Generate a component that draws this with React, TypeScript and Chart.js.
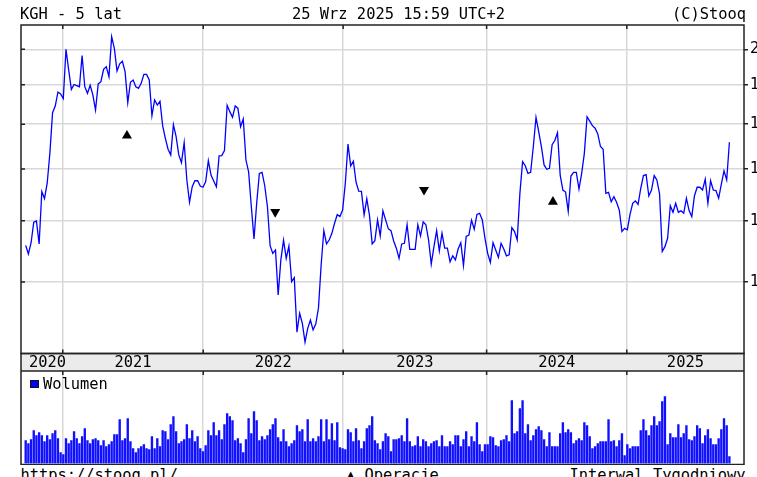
import React, { useEffect, useRef } from 'react';
import { Chart, registerables } from 'chart.js';

Chart.register(...registerables);

const MONO = '"DejaVu Sans Mono", monospace';
const SANS = '"DejaVu Sans", sans-serif';

// KGH weekly closes (PLN), one value per week, 2020-09-25 … 2025-09-25
const closes = [
  111.5, 108.7, 112.4, 119.5, 119.9, 112.0, 130.9, 128.2, 134.2, 146.7,
  165.6, 168.9, 176.1, 175.1, 172.7, 200.0, 188.1, 177.5, 180.1, 179.5,
  178.9, 196.3, 178.9, 175.4, 179.7, 174.6, 166.9, 180.4, 181.6, 188.4,
  189.9, 184.3, 207.7, 200.6, 187.5, 191.5, 193.0, 187.1, 170.6, 181.3,
  182.5, 178.9, 178.0, 180.7, 185.6, 185.6, 182.5, 164.1, 172.0, 169.4,
  171.3, 159.2, 153.4, 148.5, 146.0, 159.8, 154.2, 146.0, 142.7, 151.5,
  135.5, 126.8, 132.8, 135.2, 135.2, 133.1, 132.6, 134.8, 143.5, 137.5,
  135.1, 132.8, 145.6, 145.7, 147.9, 169.3, 166.1, 163.3, 168.9, 167.8,
  158.8, 162.5, 143.8, 138.8, 125.2, 113.7, 126.4, 138.2, 138.6, 133.2,
  125.2, 111.4, 108.9, 110.0, 96.2, 106.8, 113.3, 107.3, 111.3, 100.1,
  101.3, 86.1, 91.1, 88.4, 83.6, 87.1, 89.3, 86.7, 88.2, 92.5,
  105.2, 116.5, 112.0, 113.3, 115.6, 119.1, 122.2, 121.5, 123.9, 134.2,
  150.8, 141.3, 143.3, 134.6, 131.1, 131.0, 122.1, 128.1, 121.9, 112.0,
  113.1, 120.3, 114.7, 123.6, 120.3, 117.2, 116.5, 113.0, 110.6, 107.3,
  112.0, 112.2, 118.6, 110.2, 110.2, 110.2, 118.6, 114.7, 119.6, 118.6,
  113.3, 105.5, 111.1, 116.5, 109.7, 115.6, 110.6, 110.6, 106.2, 108.1,
  106.8, 110.3, 112.4, 105.0, 114.5, 115.0, 120.2, 117.0, 122.3, 122.7,
  120.3, 113.9, 108.9, 106.0, 112.4, 110.0, 107.6, 112.2, 110.3, 108.1,
  108.4, 117.6, 116.2, 113.3, 130.2, 143.1, 141.4, 138.2, 138.6, 149.7,
  163.3, 156.5, 149.7, 141.7, 139.9, 140.3, 150.5, 152.4, 156.0, 137.5,
  131.5, 130.7, 123.4, 137.1, 138.6, 138.6, 131.9, 138.2, 146.7, 163.6,
  161.5, 159.3, 158.1, 155.4, 149.7, 148.5, 130.2, 130.6, 127.0, 128.9,
  126.8, 123.9, 116.2, 117.3, 116.8, 122.3, 126.4, 127.3, 126.0, 132.2,
  137.3, 137.7, 129.2, 131.5, 137.3, 135.5, 130.0, 109.5, 111.1, 113.9,
  125.5, 123.1, 126.4, 123.1, 123.6, 122.7, 128.3, 123.7, 121.5, 129.3,
  132.6, 132.6, 131.5, 135.8, 126.4, 135.2, 131.5, 131.3, 128.3, 133.8,
  139.2, 135.5, 151.6,
];

// weekly volume, thousand shares
const volumesK = [
  2300, 2000, 2400, 3300, 2800, 3100, 2800, 2200, 2800, 2400,
  3000, 3300, 2500, 1100, 900, 2500, 2000, 2300, 3200, 2500,
  2000, 2700, 3500, 2300, 2000, 2400, 2500, 2300, 1800, 2300,
  1700, 1900, 2200, 2900, 2900, 4400, 2300, 2500, 4500, 2200,
  1500, 1100, 1500, 1700, 1900, 1500, 1400, 2700, 1500, 2500,
  1700, 3300, 3200, 2400, 3900, 4700, 3200, 2000, 2200, 2400,
  3900, 2500, 3300, 2200, 2700, 1500, 1200, 1800, 3300, 2800,
  4100, 2800, 3300, 2400, 3900, 5000, 4700, 4300, 2300, 2500,
  2000, 1100, 2400, 4500, 3000, 5200, 4300, 2300, 2700, 2400,
  2800, 3400, 3900, 4500, 2600, 2200, 3400, 2200, 1700, 2000,
  2300, 3800, 3200, 3400, 2200, 4400, 2200, 2500, 2200, 2700,
  4400, 2200, 4400, 2400, 4000, 2300, 4100, 1600, 1500, 1400,
  3400, 3100, 2200, 3500, 2300, 1500, 2200, 3500, 3800, 4700,
  2300, 2000, 1400, 2200, 3000, 2700, 1200, 2400, 2400, 2500,
  2800, 2200, 4500, 2200, 1700, 1800, 2700, 1700, 2400, 2200,
  1700, 2000, 2200, 2300, 1700, 2800, 1700, 1700, 2200, 1900,
  2800, 2800, 1700, 2400, 3200, 1700, 2700, 2200, 4100, 1900,
  1200, 1900, 1900, 2700, 2600, 1800, 1700, 2300, 2400, 2800,
  2200, 6300, 3000, 3200, 5500, 6300, 3000, 3900, 2300, 2800,
  3400, 3700, 3300, 2400, 1700, 3100, 1700, 1700, 1700, 3000,
  4100, 3100, 3400, 3100, 2000, 2300, 2500, 2300, 4100, 3800,
  2700, 1500, 1700, 2000, 2200, 2200, 2200, 4400, 2200, 2300,
  1700, 2300, 3000, 800, 1900, 1500, 1700, 1700, 1700, 3300,
  4400, 3300, 2800, 3800, 4700, 3800, 4200, 6200, 6700, 1900,
  3000, 2600, 2600, 3900, 2600, 3000, 3800, 2400, 2300, 2700,
  3800, 3500, 2000, 2800, 3400, 2500, 1900, 1900, 2500, 3400,
  4500, 3800, 700,
];

const yearLabels = ['2020', '2021', '2022', '2023', '2024', '2025'];
// week index at which 2021 … 2025 begin
const yearStartWeeks = [13.8, 66.1, 118.2, 171.6, 223.8];
const priceTicks = [100, 120, 140, 160, 180, 200];

// "Operacje" markers
const opsWeek = [37.7, 92.9, 148.3, 196.3];
const opsPrice = [154.6, 123.2, 131.6, 127.0];
const opsDir = ['up', 'down', 'down', 'up'];

const X_MIN = -1.75;
const X_MAX = 267.44;
const P_MIN = 80.81;
const P_MAX = 215.0;
const V_MAX = 9250;

const BAND_H = 17.5;
const TXT = 15.4;

const frameA = {
  id: 'frameA',
  afterDraw(chart: any) {
    const { ctx, chartArea: a, scales } = chart;
    const xs = scales.x;
    const ys = scales.y;
    ctx.save();
    const bandTop = a.bottom;
    const bandBot = a.bottom + BAND_H;
    ctx.fillStyle = '#ebebeb';
    ctx.fillRect(a.left, bandTop, a.right - a.left, BAND_H);
    ctx.strokeStyle = '#222';
    ctx.lineWidth = 1.5;
    ctx.strokeRect(a.left, a.top, a.right - a.left, a.bottom - a.top);
    ctx.strokeRect(a.left, bandTop, a.right - a.left, BAND_H);
    ctx.beginPath();
    yearStartWeeks.forEach((w) => {
      const px = xs.getPixelForValue(w);
      ctx.moveTo(px, a.top);
      ctx.lineTo(px, a.top + 4);
      ctx.moveTo(px, a.bottom - 4);
      ctx.lineTo(px, a.bottom);
    });
    priceTicks.forEach((v) => {
      const py = ys.getPixelForValue(v);
      ctx.moveTo(a.left, py);
      ctx.lineTo(a.left + 4, py);
    });
    ctx.stroke();
    ctx.font = `${TXT}px ${MONO}`;
    ctx.fillStyle = '#000';
    ctx.textBaseline = 'alphabetic';
    ctx.textAlign = 'left';
    const bounds = [a.left, ...yearStartWeeks.map((w) => xs.getPixelForValue(w)), a.right];
    yearLabels.forEach((lab, i) => {
      const w = ctx.measureText(lab).width;
      let cx = (bounds[i] + bounds[i + 1]) / 2;
      cx = Math.max(cx, a.left + 8 + w / 2);
      ctx.fillText(lab, cx - w / 2, bandBot - 4.3);
    });
    ctx.restore();
  },
};

const frameB = {
  id: 'frameB',
  afterDraw(chart: any) {
    const { ctx, chartArea: a, scales } = chart;
    const xs = scales.x;
    ctx.save();
    ctx.strokeStyle = '#222';
    ctx.lineWidth = 1.5;
    ctx.strokeRect(a.left, a.top, a.right - a.left, a.bottom - a.top + 1);
    ctx.beginPath();
    yearStartWeeks.forEach((w) => {
      const px = xs.getPixelForValue(w);
      ctx.moveTo(px, a.top);
      ctx.lineTo(px, a.top + 4);
    });
    ctx.stroke();
    ctx.restore();
  },
};

const txt: React.CSSProperties = {
  position: 'absolute',
  fontFamily: MONO,
  fontSize: TXT,
  lineHeight: '16px',
  whiteSpace: 'pre',
  color: '#000',
  margin: 0,
};

export default function App() {
  const refA = useRef<HTMLCanvasElement>(null);
  const refB = useRef<HTMLCanvasElement>(null);

  useEffect(() => {
    const gridColor = '#d8d8d8';
    const chartA = new Chart(refA.current as HTMLCanvasElement, {
      type: 'line',
      data: {
        datasets: [
          {
            type: 'scatter',
            data: opsWeek.map((w, i) => ({ x: w, y: opsPrice[i] })),
            pointStyle: 'triangle',
            pointRadius: 5.8,
            pointRotation: opsDir.map((d) => (d === 'up' ? 0 : 180)),
            backgroundColor: '#000',
            borderColor: '#000',
            borderWidth: 0,
            order: 1,
          } as any,
          {
            type: 'line',
            data: closes.map((c, i) => ({ x: i, y: c })),
            borderColor: '#0000ff',
            borderWidth: 1.3,
            pointRadius: 0,
            tension: 0,
            fill: false,
            order: 2,
          },
        ],
      },
      options: {
        responsive: false,
        animation: false,
        events: [],
        layout: { padding: { left: 21, top: 25, right: 0, bottom: 0 } },
        plugins: { legend: { display: false }, tooltip: { enabled: false } },
        scales: {
          x: {
            type: 'linear',
            position: 'bottom',
            min: X_MIN,
            max: X_MAX,
            afterFit: (s: any) => {
              s.height = BAND_H;
            },
            afterBuildTicks: (s: any) => {
              s.ticks = yearStartWeeks.map((v) => ({ value: v }));
            },
            ticks: { display: false },
            grid: { color: gridColor, lineWidth: 1.5, drawTicks: false },
            border: { display: false },
          },
          y: {
            type: 'logarithmic',
            position: 'right',
            min: P_MIN,
            max: P_MAX,
            afterFit: (s: any) => {
              s.width = 13;
            },
            afterBuildTicks: (s: any) => {
              s.ticks = priceTicks.map((v) => ({ value: v }));
            },
            ticks: {
              callback: (v: any) => String(v),
              font: { family: SANS, size: 15 },
              color: '#000',
              padding: 2,
              autoSkip: false,
            },
            grid: {
              color: gridColor,
              lineWidth: 1.5,
              tickColor: '#222',
              tickLength: 4,
              tickWidth: 1.5,
            },
            border: { display: false },
          },
        },
      } as any,
      plugins: [frameA],
    });

    const chartB = new Chart(refB.current as HTMLCanvasElement, {
      type: 'bar',
      data: {
        datasets: [
          {
            data: volumesK.map((v, i) => ({ x: i, y: v })),
            backgroundColor: '#1010ff',
            borderWidth: 0,
            barThickness: 1.7,
          } as any,
        ],
      },
      options: {
        responsive: false,
        animation: false,
        events: [],
        layout: { padding: { left: 21, top: 0, right: 13, bottom: 1.5 } },
        plugins: { legend: { display: false }, tooltip: { enabled: false } },
        scales: {
          x: {
            type: 'linear',
            offset: false,
            min: X_MIN,
            max: X_MAX,
            afterFit: (s: any) => {
              s.height = 0;
            },
            afterBuildTicks: (s: any) => {
              s.ticks = yearStartWeeks.map((v) => ({ value: v }));
            },
            ticks: { display: false },
            grid: { color: gridColor, lineWidth: 1.5, drawTicks: false, offset: false },
            border: { display: false },
          },
          y: { display: false, min: 0, max: V_MAX },
        },
      } as any,
      plugins: [frameB],
    });

    return () => {
      chartA.destroy();
      chartB.destroy();
    };
  }, []);

  return (
    <div
      style={{
        position: 'fixed',
        left: 0,
        top: 0,
        width: 757,
        height: 477,
        overflow: 'hidden',
        background: '#fff',
      }}
    >
      <canvas ref={refA} width={757} height={371} style={{ position: 'absolute', left: 0, top: 0 }} />
      <canvas ref={refB} width={757} height={94} style={{ position: 'absolute', left: 0, top: 371 }} />
      <div style={{ ...txt, left: 20, top: 6 }}>KGH - 5 lat</div>
      <div style={{ ...txt, left: 292, top: 6 }}>25 Wrz 2025 15:59 UTC+2</div>
      <div style={{ ...txt, left: 672, top: 6 }}>(C)Stooq</div>
      <div
        style={{
          position: 'absolute',
          left: 30,
          top: 379.5,
          width: 6.5,
          height: 6.5,
          background: '#0000ff',
          border: '1px solid #111',
        }}
      />
      <div style={{ ...txt, left: 43, top: 376.2 }}>Wolumen</div>
      <div style={{ ...txt, left: 20.4, top: 467.4 }}>https://stooq.pl/</div>
      <div style={{ ...txt, left: 346, top: 467.4 }}>▲ Operacje</div>
      <div style={{ ...txt, left: 569.5, top: 467.4 }}>Interwal Tygodniowy</div>
    </div>
  );
}
